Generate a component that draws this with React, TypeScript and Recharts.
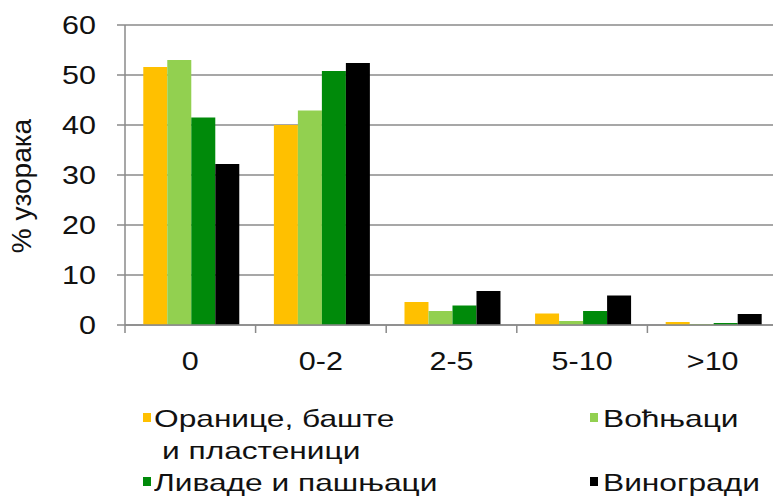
import React from "react";
import { BarChart, Bar, XAxis, YAxis, CartesianGrid, Label } from "recharts";

const categories = ["0", "0-2", "2-5", "5-10", ">10"];
const oranice = [51.6, 40.0, 4.6, 2.3, 0.6];
const vocnjaci = [53.0, 42.9, 2.8, 0.8, 0.2];
const livade = [41.5, 50.8, 3.9, 2.8, 0.4];
const vinogradi = [32.2, 52.4, 6.8, 5.9, 2.2];
const yTicks = [0, 10, 20, 30, 40, 50, 60];
const yTitle = "% узорака";

const series = [
  { key: "oranice", name: "Оранице, баште", name2: "и пластеници", color: "#FFC000", values: oranice },
  { key: "vocnjaci", name: "Воћњаци", name2: "", color: "#92D050", values: vocnjaci },
  { key: "livade", name: "Ливаде и пашњаци", name2: "", color: "#008A0A", values: livade },
  { key: "vinogradi", name: "Виногради", name2: "", color: "#000000", values: vinogradi },
];

const data = categories.map((c, i) => {
  const row: any = { cat: c };
  series.forEach((s) => (row[s.key] = s.values[i]));
  return row;
});

const FONT = "'Liberation Sans', Arial, sans-serif";
const AXIS_GREY = "#8a8a8a";
const STRETCH = 1.22;

const XTick = (props: any) => {
  const { x, y, payload, index, visibleTicksCount } = props;
  const off = payload.offset || 0;
  const last = index === (visibleTicksCount ?? categories.length) - 1;
  return (
    <g>
      <line x1={x - off} y1={y} x2={x - off} y2={y + 8} stroke={AXIS_GREY} strokeWidth={1.5} />
      {last && <line x1={x + off} y1={y} x2={x + off} y2={y + 8} stroke={AXIS_GREY} strokeWidth={1.5} />}
      <text
        transform={`translate(${x} ${y + 45}) scale(${STRETCH} 1)`}
        x={0}
        y={0}
        textAnchor="middle"
        fontSize={25}
        fill="#111"
        fontFamily={FONT}
      >
        {payload.value}
      </text>
    </g>
  );
};

const YTick = (props: any) => {
  const { x, y, payload } = props;
  return (
    <text
      transform={`translate(${x} ${y}) scale(${STRETCH} 1)`}
      x={0}
      y={0}
      dy="0.36em"
      textAnchor="end"
      fontSize={25}
      fill="#111"
      fontFamily={FONT}
    >
      {payload.value}
    </text>
  );
};

const YTitle = (props: any) => {
  const vb = props.viewBox || {};
  const cx = (vb.x || 0) + 31;
  const cy = (vb.y || 0) + (vb.height || 0) / 2 + 11;
  return (
    <text
      transform={`translate(${cx} ${cy}) rotate(-90)`}
      x={0}
      y={0}
      textAnchor="middle"
      fontSize={28}
      fill="#111"
      fontFamily={FONT}
    >
      {yTitle}
    </text>
  );
};

const LegendItem = ({ s, left, top, textLeft }: any) => (
  <div style={{ position: "absolute", left, top, fontFamily: FONT, fontSize: 24, lineHeight: "32px", color: "#111", whiteSpace: "nowrap" }}>
    <span style={{ position: "absolute", left: 0, top: 10, width: 8, height: 9, background: s.color }} />
    <div style={{ marginLeft: textLeft, transform: "scaleX(1.32)", transformOrigin: "left center" }}>{s.name}</div>
    {s.name2 && (
      <div style={{ marginLeft: textLeft + 8, transform: "scaleX(1.32)", transformOrigin: "left center" }}>{s.name2}</div>
    )}
  </div>
);

export default function App() {
  return (
    <div style={{ position: "relative", width: 773, height: 497, overflow: "hidden", background: "#fff" }}>
      <style>{`body{margin:0;}`}</style>
      <BarChart
        width={790}
        height={375}
        data={data}
        margin={{ top: 25, right: 12, bottom: 0, left: 0 }}
        barCategoryGap="14%"
        barGap={0}
      >
        <CartesianGrid vertical={false} stroke={AXIS_GREY} strokeWidth={1.5} />
        <XAxis
          dataKey="cat"
          height={50}
          tickLine={false}
          tickSize={0}
          tickMargin={0}
          stroke={AXIS_GREY}
          strokeWidth={1.5}
          tick={<XTick />}
          interval={0}
        />
        <YAxis
          width={125}
          domain={[0, 60]}
          ticks={yTicks}
          interval={0}
          stroke={AXIS_GREY}
          strokeWidth={1.5}
          tickSize={8}
          tickMargin={21}
          tick={<YTick />}
        >
          <Label content={<YTitle />} position="insideLeft" />
        </YAxis>
        {series.map((s) => (
          <Bar key={s.key} dataKey={s.key} name={s.name} fill={s.color} isAnimationActive={false} />
        ))}
      </BarChart>
      <LegendItem s={series[0]} left={143} top={403} textLeft={11} />
      <LegendItem s={series[1]} left={590} top={403} textLeft={13} />
      <LegendItem s={series[2]} left={143} top={467} textLeft={11} />
      <LegendItem s={series[3]} left={590} top={467} textLeft={13} />
    </div>
  );
}
